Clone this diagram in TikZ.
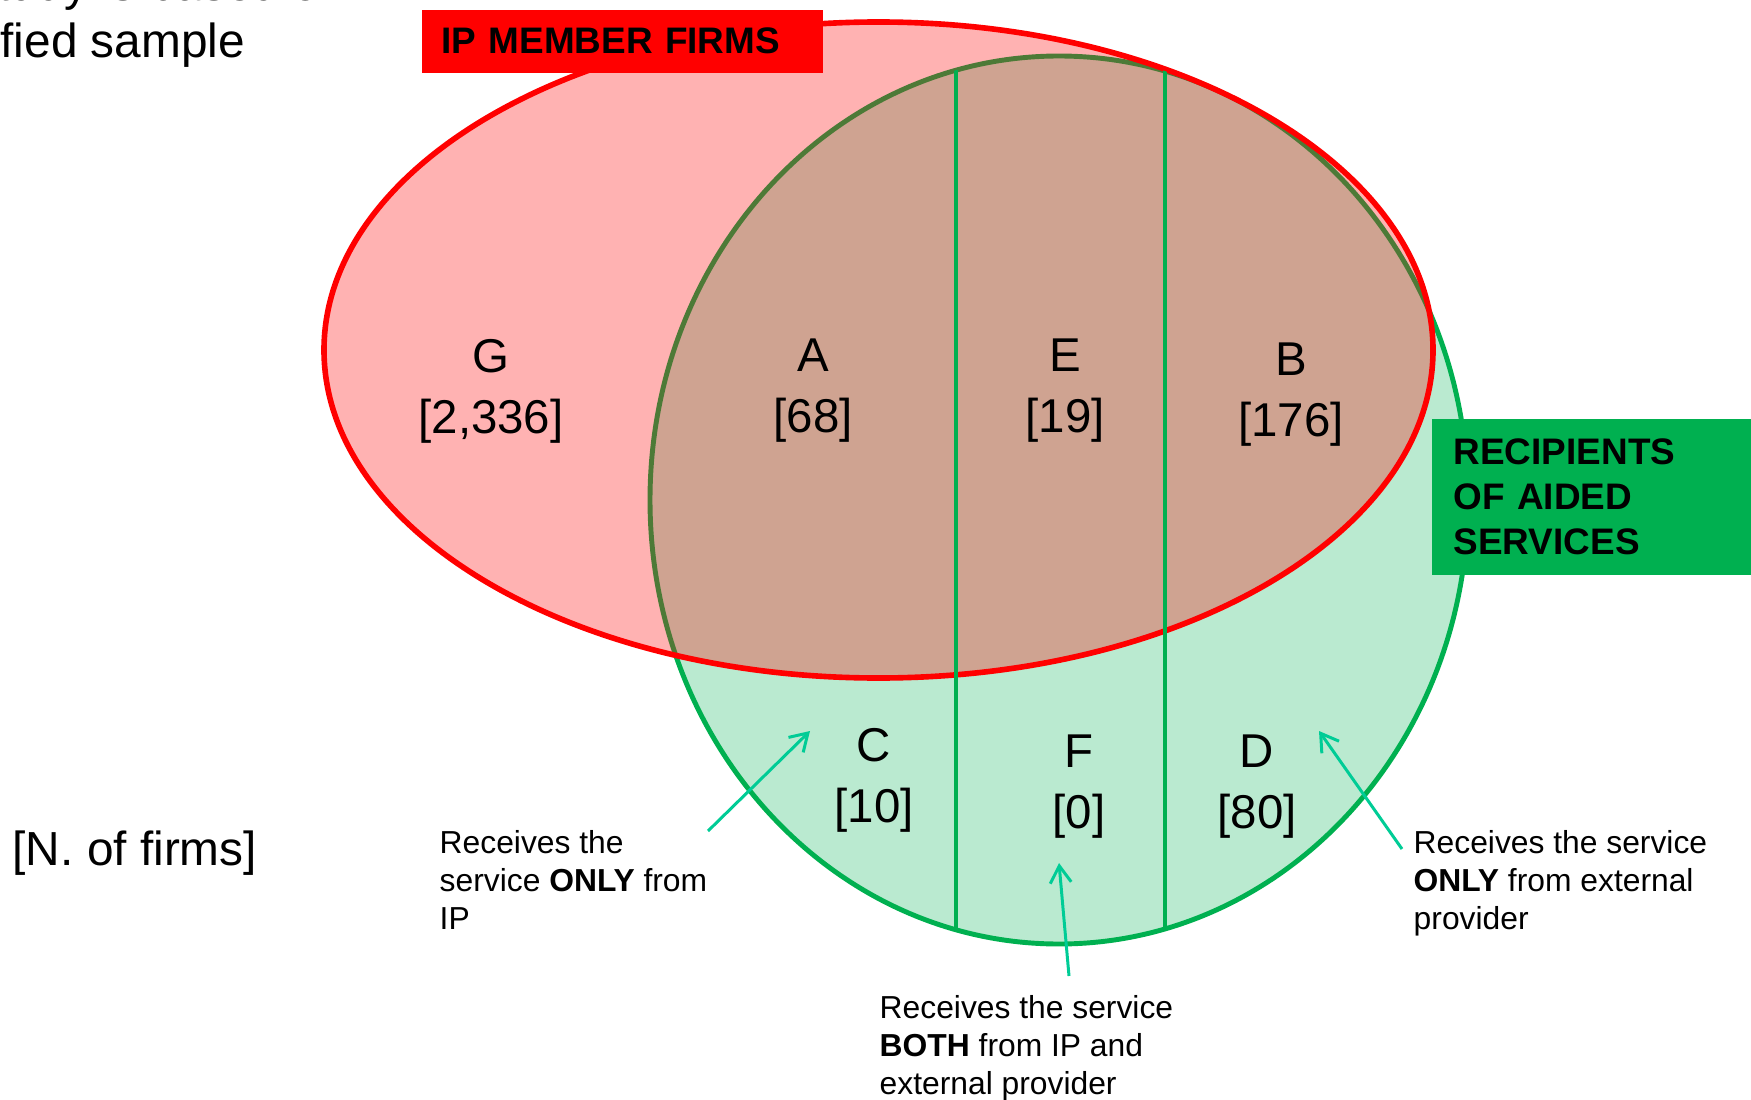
\documentclass[tikz,border=0pt]{standalone}
\usepackage{fontspec}
\setmainfont{Liberation Sans}
\usetikzlibrary{arrows.meta}
\definecolor{IPred}{HTML}{FF0000}
\definecolor{AIDgreen}{HTML}{00B050}
\definecolor{pointer}{RGB}{0,204,150}
\newcommand*{\bigtext}{\fontsize{13.6}{16}\selectfont}
\newcommand*{\regiontext}{\fontsize{13.5}{17.4}\selectfont}
\newcommand*{\notetext}{\fontsize{9.05}{10.8}\selectfont}
\newcommand*{\boxtext}{\fontsize{10.5}{12.8}\selectfont\bfseries}

\begin{document}
\begin{tikzpicture}[x=0.1mm, y=-0.1mm,
  region/.style={font=\regiontext, align=center, inner sep=0pt},
  note/.style={font=\notetext, align=left, anchor=north west, inner sep=0pt},
  setbox/.style={anchor=north west, inner ysep=0pt, align=left, font=\boxtext},
  arrowto/.style={pointer, line width=0.85pt,
    -{Straight Barb[length=1.7mm, width=2.1mm]}}]
  \useasboundingbox (0,0) rectangle (1751,1099);
  % the two sets
  \draw[AIDgreen, line width=1.4pt, fill=AIDgreen, fill opacity=0.27]
    (1059,500) ellipse [x radius=409, y radius=444];
  \draw[IPred, line width=1.6pt, fill=IPred, fill opacity=0.3]
    (878.5,350) ellipse [x radius=554.5, y radius=328];
  \begin{scope}
    \clip (1059,500) ellipse [x radius=409, y radius=444];
    \draw[AIDgreen, line width=1.1pt] (956,0) -- (956,1000)
      (1165,0) -- (1165,1000);
  \end{scope}
  % regions
  \foreach \name/\x/\y/\tally in {G/491/391/{[2,336]}, A/813/391/{[68]},
      E/1065/391/{[19]}, B/1291/395/{[176]}, C/874/780/{[10]},
      F/1079/787/{[0]}, D/1257/787/{[80]}}
    \node[region] (\name) at (\x,\y) {\name\\{\tally}};
  % labels of the sets
  \node[setbox, fill=IPred, minimum height=6.3mm, text width=36.1mm,
    inner xsep=2mm] (ipfirms) at (421,9) {IP MEMBER FIRMS};
  \node[setbox, fill=AIDgreen, minimum height=15.6mm, text width=28.5mm,
    inner xsep=2.2mm] (recipients) at (1431,418) {RECIPIENTS\\OF AIDED\\SERVICES};
  % side text
  \node[font=\bigtext, anchor=base west, inner sep=0pt] (cutline) at (-27,0.3) {study is based on};
  \node[font=\bigtext, anchor=base west, inner sep=0pt] (sample) at (0,58) {fied sample};
  \node[font=\bigtext, anchor=west, inner sep=0pt] (nfirms) at (12,853) {[N. of firms]};
  % notes
  \node[note] (onlyip) at (439,830) {Receives the\\service \textbf{ONLY} from\\IP};
  \node[note] (both) at (879,995) {Receives the service\\\textbf{BOTH} from IP and\\external provider};
  \node[note] (onlyext) at (1413,830) {Receives the service\\\textbf{ONLY} from external\\provider};
  \coordinate (onlyiptail) at (708,831);
  \coordinate (onlyiptip) at (810,731);
  \coordinate (bothtail) at (1069,976);
  \coordinate (bothtip) at (1059,863);
  \coordinate (onlyexttail) at (1402,849);
  \coordinate (onlyexttip) at (1319,731);
  \draw[arrowto] (onlyiptail) -- (onlyiptip);
  \draw[arrowto] (bothtail) -- (bothtip);
  \draw[arrowto] (onlyexttail) -- (onlyexttip);
\end{tikzpicture}
\end{document}
